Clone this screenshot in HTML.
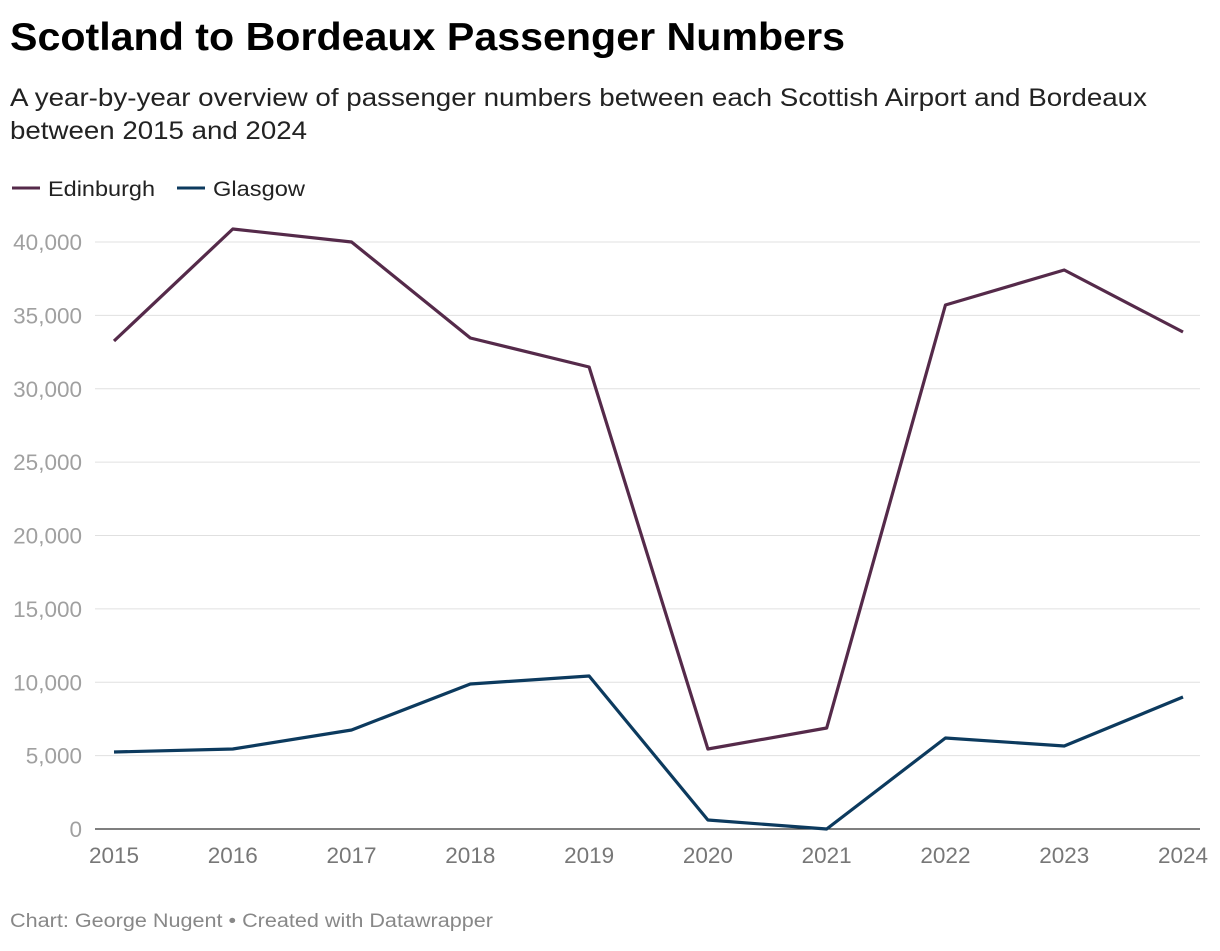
<!DOCTYPE html>
<html><head><meta charset="utf-8"><style>
body{margin:0;background:#fff;font-family:"Liberation Sans",sans-serif;}
svg text{font-family:"Liberation Sans",sans-serif;}
</style></head><body>
<svg width="1220" height="946">
<text x="10" y="50" font-size="39" font-weight="bold" fill="#000" textLength="835" lengthAdjust="spacingAndGlyphs">Scotland to Bordeaux Passenger Numbers</text>
<text x="10" y="106" font-size="25" fill="#222" textLength="1137" lengthAdjust="spacingAndGlyphs">A year-by-year overview of passenger numbers between each Scottish Airport and Bordeaux</text>
<text x="10" y="139" font-size="25" fill="#222" textLength="297" lengthAdjust="spacingAndGlyphs">between 2015 and 2024</text>
<g>
<line x1="12" y1="188" x2="40" y2="188" stroke="#552a4a" stroke-width="3"/>
<text x="48" y="196" font-size="21" fill="#222" textLength="107" lengthAdjust="spacingAndGlyphs">Edinburgh</text>
<line x1="177" y1="188" x2="205" y2="188" stroke="#0c3a5e" stroke-width="3"/>
<text x="213" y="196" font-size="21" fill="#222" textLength="92" lengthAdjust="spacingAndGlyphs">Glasgow</text>
</g>
<g id="grid"></g><g id="series"></g>
<text x="10" y="927" font-size="19" fill="#888" textLength="483" lengthAdjust="spacingAndGlyphs">Chart: George Nugent • Created with Datawrapper</text>
</svg>
<script>
const years=[2015,2016,2017,2018,2019,2020,2021,2022,2023,2024];
const edinburgh=[33254,40886,40000,33458,31482,5451,6882,35707,38092,33867];
const glasgow=[5247,5451,6746,9881,10426,613,0,6201,5656,8995];
const yTicks=[0,5000,10000,15000,20000,25000,30000,35000,40000];
const NS="http://www.w3.org/2000/svg";
const x=i=>114+i*(1183-114)/(years.length-1);
const y=v=>829-v*(829-242)/40000;
const grid=document.getElementById('grid'),ser=document.getElementById('series');
function mk(tag,attrs,parent,txt){const e=document.createElementNS(NS,tag);for(const k in attrs)e.setAttribute(k,attrs[k]);if(txt!==undefined)e.textContent=txt;parent.appendChild(e);return e;}
yTicks.forEach(t=>{
 const l=mk('line',{x1:95,x2:1200,y1:y(t),y2:y(t),stroke:t===0?'#333':'#e0e0e0','stroke-width':t===0?1.3:1},grid);
 
 
 const tx=mk('text',{x:82,y:y(t)+8,'text-anchor':'end','font-size':22.5,fill:'#a0a0a0'},grid,t.toLocaleString('en-US'));
 
 
});
years.forEach((yr,i)=>{
 const tx=mk('text',{x:x(i),y:863,'text-anchor':'middle','font-size':22.5,fill:'#777'},grid,yr);
 
 
});
function line(data,color,name){
 const p=mk('polyline',{points:data.map((v,i)=>x(i)+','+y(v)).join(' '),fill:'none',stroke:color,'stroke-width':3.2,'stroke-linejoin':'round'},ser);
 
 
}
line(edinburgh,'#552a4a','edinburgh-line');
line(glasgow,'#0c3a5e','glasgow-line');
</script>
</body></html>
